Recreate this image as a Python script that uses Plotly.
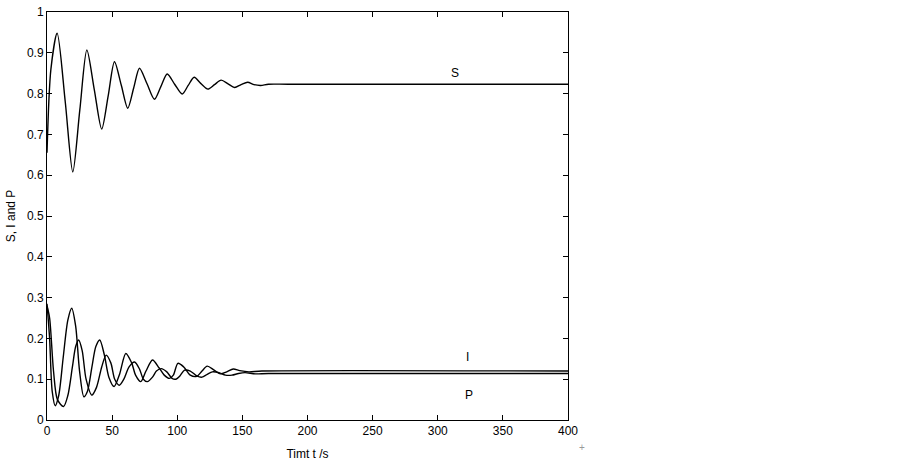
import plotly.graph_objects as go

# S curve (time, value)
t_s = [0, 3, 7.8, 14, 19.8, 25.2, 30.6, 36.3, 42, 47, 51.8, 57, 62, 66.5, 71, 76.8, 82.5, 87.4,
       92.3, 98, 103.8, 108.4, 113, 118, 123.5, 128.6, 133.7, 139, 144, 149, 154, 159, 164, 170,
       185, 400]
s_val = [0.655, 0.86, 0.948, 0.78, 0.608, 0.76, 0.907, 0.81, 0.713, 0.795, 0.878, 0.821, 0.764,
         0.813, 0.862, 0.824, 0.786, 0.817, 0.848, 0.823, 0.799, 0.82, 0.840, 0.825, 0.811, 0.822,
         0.833, 0.824, 0.815, 0.822, 0.828, 0.822, 0.820, 0.823, 0.823, 0.823]

# I curve
t_i = [0, 2, 4, 6.3, 9, 12.5, 16, 19, 22, 25, 28.3, 31, 34.5, 37.5, 40.5, 44, 47.5, 51.5, 55.5,
       60.5, 65, 68, 72, 76, 81, 86, 90, 94, 97, 100.5, 105, 110, 115, 119, 123, 128, 133, 138,
       143, 148, 155, 165, 400]
i_val = [0.285, 0.2, 0.07, 0.035, 0.06, 0.155, 0.245, 0.274, 0.23, 0.12, 0.057, 0.07, 0.13, 0.18,
         0.196, 0.16, 0.105, 0.082, 0.11, 0.163, 0.14, 0.11, 0.094, 0.12, 0.147, 0.128, 0.11,
         0.102, 0.11, 0.139, 0.13, 0.11, 0.107, 0.12, 0.132, 0.123, 0.113, 0.118, 0.125, 0.121,
         0.118, 0.12, 0.12]

# P curve
t_p = [0, 2, 5, 8, 12.7, 16, 19.5, 22, 24.3, 27, 30, 34.4, 38, 42, 45.4, 49, 52, 55.5, 59, 63,
       67.2, 71, 74, 77, 81, 84, 87.7, 92, 96, 99, 102, 105.6, 110, 115, 119, 123, 127, 132, 137,
       142, 147, 152, 160, 170, 400]
p_val = [0.28, 0.25, 0.12, 0.05, 0.033, 0.06, 0.13, 0.18, 0.196, 0.17, 0.1, 0.061, 0.08, 0.13,
         0.159, 0.14, 0.1, 0.085, 0.1, 0.13, 0.142, 0.125, 0.1, 0.094, 0.105, 0.12, 0.126, 0.118,
         0.102, 0.1, 0.108, 0.122, 0.12, 0.108, 0.105, 0.112, 0.118, 0.116, 0.11, 0.11, 0.114,
         0.116, 0.113, 0.114, 0.114]

x_ticks = [0, 50, 100, 150, 200, 250, 300, 350, 400]
y_ticks = [0, 0.1, 0.2, 0.3, 0.4, 0.5, 0.6, 0.7, 0.8, 0.9, 1]
y_tick_text = ['0', '0.1', '0.2', '0.3', '0.4', '0.5', '0.6', '0.7', '0.8', '0.9', '1']

# curve labels
labels = ['S', 'I', 'P']
label_x = [313, 323, 324]
label_y = [0.85, 0.155, 0.062]

fig = go.Figure()
for tt, vv in [(t_s, s_val), (t_i, i_val), (t_p, p_val)]:
    fig.add_trace(go.Scatter(x=tt, y=vv, mode='lines',
                             line=dict(color='black', width=1.4, shape='spline', smoothing=0.8),
                             showlegend=False))

for txt, lx, ly in zip(labels, label_x, label_y):
    fig.add_annotation(x=lx, y=ly, text=txt, showarrow=False,
                       font=dict(size=12, color='black'))

fig.add_annotation(xref='paper', yref='paper', x=1.036, y=-0.086, text='+', showarrow=False,
                   font=dict(size=10, color='#999999'))

axis_style = dict(showline=True, linecolor='black', linewidth=1, mirror='ticks',
                  ticks='inside', ticklen=5, tickcolor='black', showgrid=False,
                  zeroline=False, automargin=False, ticklabeloverflow='allow',
                  tickfont=dict(size=12, color='black'))

fig.update_xaxes(range=[0, 400], tickvals=x_ticks,
                 title=dict(text='Timt t /s', font=dict(size=12, color='black'), standoff=12),
                 **axis_style)
fig.update_yaxes(range=[0, 1], tickvals=y_ticks, ticktext=y_tick_text,
                 title=dict(text='S, I and P', font=dict(size=12, color='black'), standoff=8),
                 **axis_style)

fig.update_layout(width=899, height=468, plot_bgcolor='white', paper_bgcolor='white',
                  margin=dict(l=47, r=331, t=12, b=48),
                  font=dict(family='Liberation Sans, Arial, sans-serif', color='black'))

# drop the default page margin so the figure sits at the top-left corner
fig.write_html('out.html', config={'displayModeBar': False},
               post_script="document.body.style.margin='0';")
